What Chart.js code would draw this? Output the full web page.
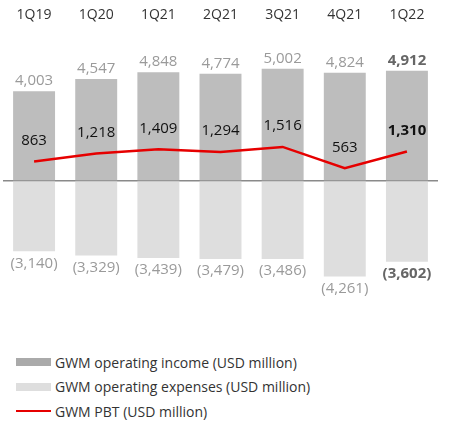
<!DOCTYPE html>
<html>
<head>
<meta charset="utf-8">
<script src="https://cdn.jsdelivr.net/npm/chart.js@4/dist/chart.umd.min.js"></script>
<style>
  body { margin: 0; background: #fff; font-family: "Open Sans", sans-serif; }
  #wrap { position: relative; width: 450px; height: 340px; }
  #legend { position: absolute; left: 16px; top: 350px; font-size: 14px; color: #333; }
  #legend div { display: flex; align-items: center; height: 24.5px; }
  #legend span.box { display: inline-block; width: 35px; margin-right: 4px; }
</style>
</head>
<body>
<div id="wrap"><canvas id="gwmChart" width="450" height="340"></canvas></div>
<div id="legend"></div>
<script>
const quarters = ["1Q19", "1Q20", "1Q21", "2Q21", "3Q21", "4Q21", "1Q22"];
const operatingIncome = [4003, 4547, 4848, 4774, 5002, 4824, 4912];
const operatingExpenses = [-3140, -3329, -3439, -3479, -3486, -4261, -3602];
const pbt = [863, 1218, 1409, 1294, 1516, 563, 1310];

const fmt = (v) => {
  const s = Math.abs(v).toLocaleString("en-US");
  return v < 0 ? "(" + s + ")" : s;
};

const valueLabels = {
  id: "valueLabels",
  afterDatasetsDraw(chart) {
    const ctx = chart.ctx;
    const last = quarters.length - 1;
    ctx.save();
    ctx.textAlign = "center";
    ctx.textBaseline = "middle";
    chart.data.datasets.forEach((ds, di) => {
      const meta = chart.getDatasetMeta(di);
      meta.data.forEach((el, i) => {
        const v = ds.data[i];
        const bold = i === last;
        ctx.font = (bold ? "bold " : "") + "15px 'Open Sans'";
        let y;
        if (ds.type === "line") {
          ctx.fillStyle = "#111";
          y = el.y - 21;
        } else if (v >= 0) {
          ctx.fillStyle = bold ? "#666" : "#9a9a9a";
          y = el.y - 10;
        } else {
          ctx.fillStyle = bold ? "#666" : "#9a9a9a";
          y = el.y + 12;
        }
        ctx.fillText(fmt(v), el.x, y);
      });
    });
    ctx.restore();
  }
};

const ctx = document.getElementById("gwmChart").getContext("2d");

const chart = new Chart(ctx, {
  data: {
    labels: quarters,
    datasets: [
      {
        type: "line",
        label: "GWM PBT (USD million)",
        data: pbt,
        borderColor: "#e60000",
        backgroundColor: "#e60000",
        borderWidth: 2.5,
        pointRadius: 0,
        tension: 0,
        order: 0
      },
      {
        type: "bar",
        label: "GWM operating income (USD million)",
        data: operatingIncome,
        backgroundColor: "#bdbdbd",
        barPercentage: 0.675,
        categoryPercentage: 1,
        order: 1
      },
      {
        type: "bar",
        label: "GWM operating expenses (USD million)",
        data: operatingExpenses,
        backgroundColor: "#dedede",
        barPercentage: 0.675,
        categoryPercentage: 1,
        order: 2
      }
    ]
  },
  options: {
    responsive: false,
    animation: false,
    devicePixelRatio: 1,
    layout: { padding: { top: 7, left: 3, right: 12, bottom: 20 } },
    plugins: {
      legend: { display: false },
      tooltip: { enabled: false }
    },
    scales: {
      x: {
        position: "top",
        stacked: true,
        grid: { display: false },
        border: { display: false },
        ticks: {
          color: "#333",
          font: { family: "Open Sans", size: 14 },
          padding: 0
        }
      },
      y: {
        min: -6205,
        max: 6650,
        afterBuildTicks: (axis) => { axis.ticks = [{ value: 0 }]; },
        ticks: { display: false },
        border: { display: false },
        grid: { color: "#8a8a8a", lineWidth: 1.5, drawTicks: false }
      }
    }
  },
  plugins: [valueLabels]
});

// legend in the original's order: income, expenses, PBT
const legendOrder = [1, 2, 0];
const legendEl = document.getElementById("legend");
legendOrder.forEach((di) => {
  const ds = chart.data.datasets[di];
  const row = document.createElement("div");
  const box = document.createElement("span");
  box.className = "box";
  if (ds.type === "line") {
    box.style.height = "2px";
    box.style.background = ds.borderColor;
  } else {
    box.style.height = "8px";
    box.style.background = di === 1 ? "#aaaaaa" : ds.backgroundColor;
  }
  row.appendChild(box);
  row.appendChild(document.createTextNode(ds.label));
  legendEl.appendChild(row);
});
</script>
</body>
</html>
